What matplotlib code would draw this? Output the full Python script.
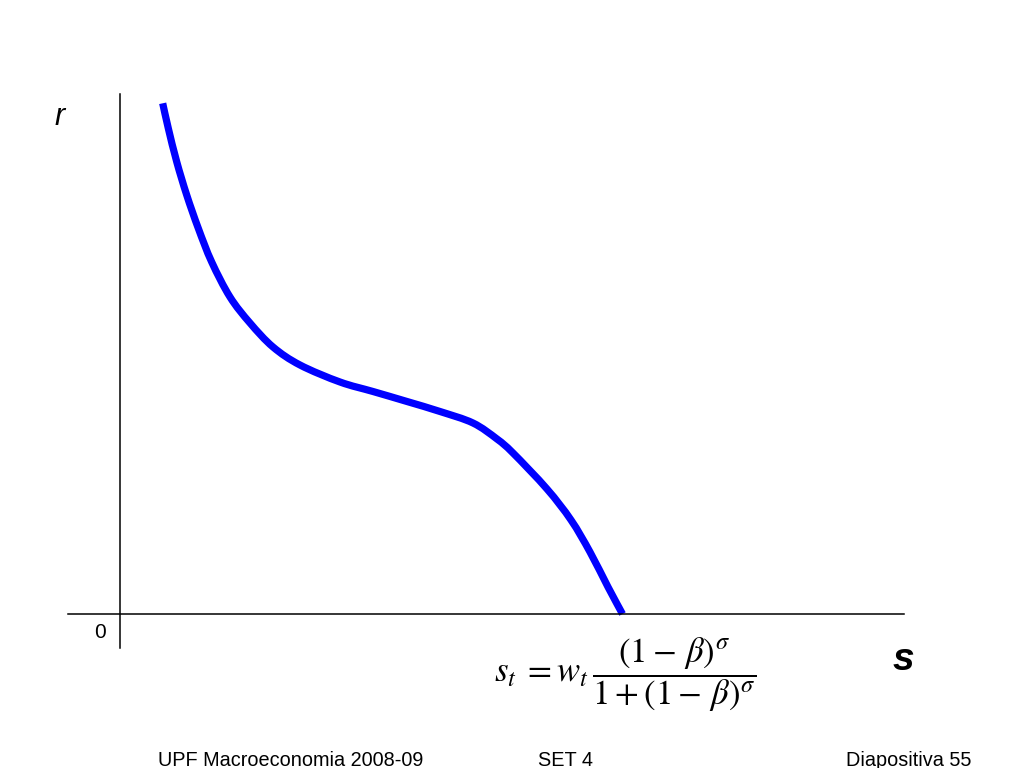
import matplotlib
matplotlib.use("Agg")
import matplotlib.pyplot as plt
import numpy as np
from matplotlib.path import Path
from matplotlib.patches import PathPatch

# curve: savings s vs interest rate r (units: pixels from origin)
s_vals = [42.7, 48.3, 56.7, 66.7, 78.3, 91.7, 110, 130, 153, 180, 220,
          253, 287, 320, 353, 377, 393, 427, 451, 470, 488, 502.5]
r_vals = [510.7, 485.7, 452.3, 419, 385.7, 352, 317, 291, 267, 249, 232,
          222.5, 212.5, 202.5, 191, 175, 161, 125, 94, 62, 27, 0]

footer = ["UPF Macroeconomia 2008-09", "SET 4", "Diapositiva 55"]
footer_x = [158, 538, 846]

plt.rcParams["font.family"] = ["Liberation Sans", "DejaVu Sans"]
plt.rcParams["mathtext.fontset"] = "stix"

fig = plt.figure(figsize=(10.24, 7.68), dpi=100)
ax = fig.add_axes([0, 0, 1, 1])
# origin of the diagram sits at pixel (120, 614)
ax.set_xlim(-120, 904)
ax.set_ylim(614 - 768, 614)
ax.axis("off")

# axes of the diagram
ax.plot([-52, 784], [0, 0], color="black", linewidth=1.1)
ax.plot([0, 0], [-34, 520], color="black", linewidth=1.1)

# smooth curve through the read points (Catmull-Rom drawn as cubic Bezier segments)
pts = np.column_stack([s_vals, r_vals]).astype(float)
ext = np.vstack([pts[0], pts, pts[-1]])
verts = [pts[0]]
codes = [Path.MOVETO]
for i in range(1, len(ext) - 2):
    p0, p1, p2, p3 = ext[i - 1], ext[i], ext[i + 1], ext[i + 2]
    verts += [p1 + (p2 - p0) / 6, p2 - (p3 - p1) / 6, p2]
    codes += [Path.CURVE4] * 3
ax.add_patch(PathPatch(Path(verts, codes), fill=False, edgecolor="#0000ff",
                       linewidth=5.2, capstyle="butt", joinstyle="round"))

ax.text(-60, 497, "r", fontsize=22, style="italic", ha="center", va="center")
ax.text(-20, -18, "0", fontsize=15, ha="center", va="center")
ax.text(783, -46, "s", fontsize=28, style="italic", fontweight="bold",
        ha="center", va="center")

ax.text(505, -61, r"$s_t\;= w_t\,\dfrac{(1-\,\beta)^{\sigma}}{1+(1-\,\beta)^{\sigma}}$",
        fontsize=25, ha="center", va="center")

for lbl, x in zip(footer, footer_x):
    ax.text(x - 120, 614 - 760, lbl, fontsize=14.3, ha="left", va="center")

fig.savefig("out.png", dpi=100)
